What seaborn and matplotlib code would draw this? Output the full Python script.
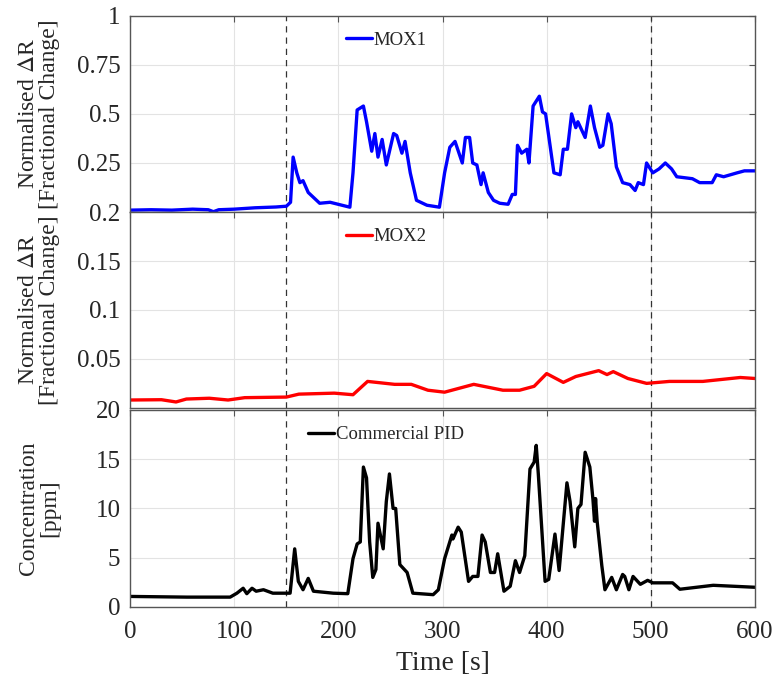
import numpy as np
import pandas as pd
import matplotlib
matplotlib.use("Agg")
import matplotlib.pyplot as plt
import seaborn as sns

# MOX1 (normalised delta R)
t_mox1 = [0, 20, 40, 60, 75, 80, 85, 100, 120, 140, 150, 154, 156.5, 160, 163, 166, 171, 182, 192, 211,
          214, 218, 224, 227, 232, 235, 238, 242, 246, 253, 256, 261, 264, 269, 275, 285, 297,
          302, 307, 312, 319, 322, 326, 329, 333, 337, 339, 344, 349, 355, 363, 367, 370,
          372, 376, 381, 383, 387, 393, 396, 399, 407, 413, 416, 420, 424, 428, 430, 437,
          442, 446, 451, 454, 459, 462, 467, 473, 480, 485, 488, 493, 496, 502, 508, 514,
          520, 525, 540, 547, 559, 563, 570, 583, 590, 600]
mox1 = [0.01, 0.012, 0.01, 0.015, 0.012, 0.002, 0.012, 0.015, 0.022, 0.026, 0.03, 0.05, 0.28, 0.2, 0.15, 0.16, 0.1, 0.045, 0.05, 0.025,
        0.2, 0.52, 0.54, 0.46, 0.31, 0.40, 0.28, 0.37, 0.24, 0.40, 0.39, 0.30, 0.36, 0.20, 0.06, 0.035, 0.025,
        0.2, 0.33, 0.36, 0.25, 0.38, 0.38, 0.25, 0.24, 0.14, 0.2, 0.1, 0.06, 0.045, 0.04, 0.09, 0.09,
        0.34, 0.30, 0.32, 0.25, 0.54, 0.59, 0.51, 0.5, 0.2, 0.19, 0.32, 0.32, 0.5, 0.43, 0.46, 0.38,
        0.54, 0.43, 0.33, 0.34, 0.5, 0.45, 0.23, 0.15, 0.14, 0.11, 0.15, 0.14, 0.25, 0.2, 0.22, 0.25,
        0.22, 0.18, 0.17, 0.15, 0.15, 0.19, 0.18, 0.2, 0.21, 0.21]

# MOX2 (normalised delta R)
t_mox2 = [0, 30, 44, 54, 76, 94, 110, 150, 162, 196, 214, 228, 254, 270, 286, 302, 330, 358, 374,
          388, 400, 416, 428, 450, 458, 464, 478, 496, 518, 550, 586, 600]
mox2 = [0.008, 0.0083, 0.006, 0.009, 0.0098, 0.008, 0.0104, 0.011, 0.014, 0.015, 0.0134, 0.027, 0.024,
        0.024, 0.018, 0.016, 0.024, 0.018, 0.018, 0.022, 0.035, 0.026, 0.032, 0.038, 0.034, 0.037,
        0.030, 0.025, 0.027, 0.027, 0.031, 0.030]

# Commercial PID (ppm)
t_pid = [0, 54.5, 96, 102.5, 108.5, 112, 117, 121, 128, 137, 153.6, 158, 161.5, 166, 171, 176, 195, 209,
         214, 218, 221, 224, 227, 230, 233, 236, 238, 243, 246, 249, 252.5, 255, 259, 266, 271.5, 291,
         296, 302, 309, 310, 315, 318, 325, 329, 334, 338, 341, 346, 350, 353, 359, 365, 370, 374, 379,
         384, 388, 390, 392, 398.5, 402, 408, 412, 419.5, 422.5, 427, 430, 433, 437, 441.5, 444.5,
         446, 447, 448.5, 453, 456, 462.5, 467, 473, 475, 479, 483, 490, 497, 502, 521, 528, 560, 600]
pid = [1.07, 1.0, 1.0, 1.4, 1.9, 1.35, 1.9, 1.6, 1.75, 1.4, 1.4, 5.9, 2.6, 1.75, 2.9, 1.6, 1.4, 1.35,
       4.9, 6.4, 6.6, 14.2, 13.1, 6.6, 3.0, 3.8, 8.5, 5.9, 10.7, 13.5, 10.0, 10.0, 4.3, 3.5, 1.4, 1.25,
       1.75, 4.9, 7.3, 6.9, 8.1, 7.6, 2.6, 3.1, 3.1, 7.3, 6.6, 3.5, 3.5, 5.4, 1.6, 2.1, 4.7, 3.5, 5.2,
       14.0, 14.7, 16.4, 13.5, 2.6, 2.8, 7.4, 3.7, 12.6, 10.7, 6.1, 10.0, 10.4, 15.7, 14.2, 10.9,
       8.7, 11.0, 8.7, 4.2, 1.75, 3.0, 1.75, 3.3, 3.1, 1.75, 3.1, 2.3, 2.7, 2.45, 2.45, 1.8, 2.2, 2.0]

events = [150, 500]

sns.set_style("whitegrid")
plt.rcParams['font.family'] = ['Liberation Serif', 'DejaVu Serif']
plt.rcParams['mathtext.fontset'] = 'stix'

fig = plt.figure(figsize=(7.75, 6.82), dpi=100)
ax1 = fig.add_axes([0.168, 0.689, 0.806, 0.288])
ax2 = fig.add_axes([0.168, 0.402, 0.806, 0.287])
ax3 = fig.add_axes([0.168, 0.110, 0.806, 0.289])

panels = [
    (ax1, t_mox1, mox1, "#0000ff", "MOX1", (0, 1), [0, 0.25, 0.5, 0.75, 1], ["", "0.25", "0.5", "0.75", "1"],
     "Normalised $\\Delta$R\n[Fractional Change]"),
    (ax2, t_mox2, mox2, "#ff0000", "MOX2", (0, 0.2), [0, 0.05, 0.1, 0.15, 0.2], ["", "0.05", "0.1", "0.15", "0.2"],
     "Normalised $\\Delta$R\n[Fractional Change]"),
    (ax3, t_pid, pid, "black", "Commercial PID", (0, 20), [0, 5, 10, 15, 20], ["0", "5", "10", "15", "20"],
     "Concentration\n[ppm]"),
]

for ax, t, y, c, lab, ylim, yt, ytl, ylab in panels:
    df = pd.DataFrame({"t": t, "v": y})
    sns.lineplot(data=df, x="t", y="v", ax=ax, color=c, linewidth=2.4, label=lab)
    for e in events:
        ax.axvline(e, color="#333333", linestyle=(0, (5, 4)), linewidth=0.9, zorder=1)
    ax.set_xlim(0, 600)
    ax.set_ylim(*ylim)
    ax.set_yticks(yt)
    ax.set_yticklabels(ytl)
    ax.set_xticks([0, 100, 200, 300, 400, 500, 600])
    ax.grid(True, color="#e3e3e3", linewidth=0.8)
    ax.tick_params(direction="in", right=True, top=True, length=4, labelsize=18, color="#555555", pad=7)
    for s in ax.spines.values():
        s.set_edgecolor("#555555")
        s.set_linewidth(1.0)
    ax.set_xlabel("")
    ax.set_ylabel(ylab, fontsize=17, linespacing=1.0)
    ax.yaxis.set_label_coords(-0.112, 0.5)
    ax.legend(loc="upper center", bbox_to_anchor=(0.41, 0.975), frameon=False, fontsize=13.5,
              handlelength=1.4, handletextpad=0.1, borderaxespad=0.2)
    if ax is not ax3:
        ax.set_xticklabels([])

ax3.set_xlabel("Time [s]", fontsize=20, labelpad=6)
ax3.tick_params(axis="x", pad=10)

fig.savefig("out.png", dpi=100)
